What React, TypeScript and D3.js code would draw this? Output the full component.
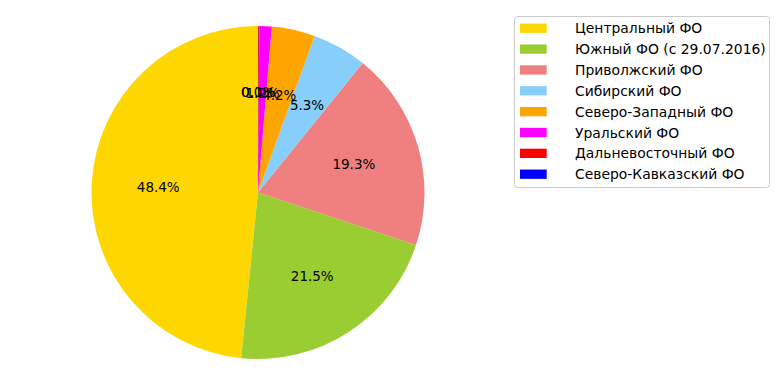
import React from "react";
import * as d3 from "d3";

const categories = [
  "Центральный ФО",
  "Южный ФО (с 29.07.2016)",
  "Приволжский ФО",
  "Сибирский ФО",
  "Северо-Западный ФО",
  "Уральский ФО",
  "Дальневосточный ФО",
  "Северо-Кавказский ФО",
];
const values = [48.4, 21.5, 19.3, 5.3, 4.2, 1.2, 0.1, 0.02];
const colors = ["#FFD700", "#9ACD32", "#F08080", "#87CEFA", "#FFA500", "#FF00FF", "#FF0000", "#0000FF"];

const W = 782;
const H = 389;
const cx = 258;
const cy = 192.5;
const R = 166.5;
const FONT = "'DejaVu Sans', sans-serif";

export default function App() {
  const total = d3.sum(values);
  const pie = d3
    .pie<number>()
    .sort(null)
    .value((d) => d)
    .startAngle(0)
    .endAngle(-2 * Math.PI);
  const arcs = pie(values);
  const arc = d3.arc<d3.PieArcDatum<number>>().innerRadius(0).outerRadius(R);
  const labelArc = d3.arc<d3.PieArcDatum<number>>().innerRadius(R * 0.6).outerRadius(R * 0.6);

  const legX = 514.5;
  const legY = 16.5;
  const legW = 255;
  const legH = 171;
  const rowY = d3.scaleLinear().domain([0, 1]).range([28.3, 28.3 + 20.85]);

  return (
    <svg width={W} height={H} style={{ position: "absolute", left: 0, top: 0 }}>
      <rect x={0} y={0} width={W} height={H} fill="#ffffff" />
      <g transform={`translate(${cx},${cy})`}>
        {arcs.map((a, i) => (
          <path key={i} d={arc(a) || ""} fill={colors[i]} />
        ))}
        {arcs.map((a, i) => {
          const [x, y] = labelArc.centroid(a);
          return (
            <text
              key={"t" + i}
              x={x}
              y={y}
              textAnchor="middle"
              dy="0.36em"
              fontFamily={FONT}
              fontSize={13.5}
              fill="#000"
            >
              {((values[i] / total) * 100).toFixed(1) + "%"}
            </text>
          );
        })}
      </g>
      <rect
        x={legX}
        y={legY}
        width={legW}
        height={legH}
        rx={3}
        fill="#ffffff"
        fillOpacity={0.8}
        stroke="#cccccc"
        strokeWidth={1}
      />
      {categories.map((c, i) => (
        <g key={"l" + i}>
          <rect x={520} y={rowY(i) - 4.7} width={26.7} height={9.3} fill={colors[i]} />
          <text x={575} y={rowY(i)} dy="0.36em" fontFamily={FONT} fontSize={13.9} fill="#000">
            {c}
          </text>
        </g>
      ))}
    </svg>
  );
}
